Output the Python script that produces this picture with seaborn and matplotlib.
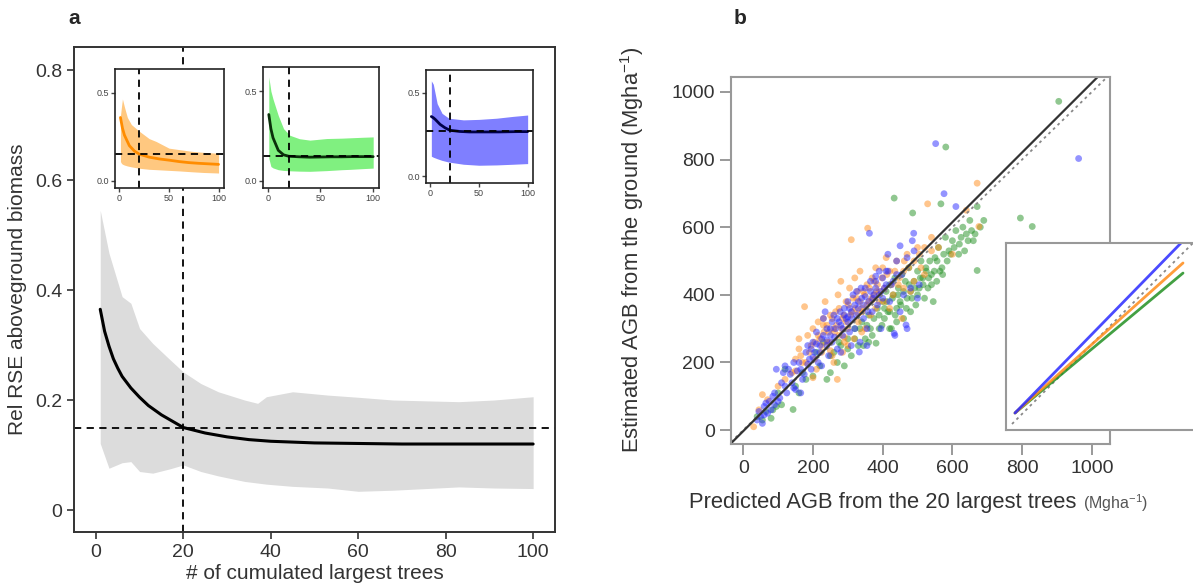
import matplotlib
matplotlib.use("Agg")
import matplotlib.pyplot as plt
import numpy as np
import pandas as pd
import seaborn as sns

# ---------------- panel a: relative RSE vs number of cumulated largest trees
n_mean = [1, 2, 3, 4, 5, 6, 8, 10, 12, 15, 20, 25, 30, 35, 40, 50, 60, 70, 80, 90, 100]
rse_mean = [0.365, 0.325, 0.298, 0.275, 0.258, 0.243, 0.222, 0.205, 0.19, 0.173, 0.15,
            0.14, 0.133, 0.128, 0.125, 0.122, 0.121, 0.12, 0.12, 0.12, 0.12]
n_band = [1, 3, 6, 8, 10, 13, 17, 20, 24, 28, 34, 37, 39, 45, 53, 60, 68, 83, 91, 100]
rse_upper = [0.545, 0.467, 0.388, 0.376, 0.33, 0.303, 0.273, 0.251, 0.23, 0.215, 0.2,
             0.194, 0.206, 0.215, 0.209, 0.205, 0.2, 0.197, 0.2, 0.206]
rse_lower = [0.121, 0.076, 0.086, 0.088, 0.07, 0.067, 0.075, 0.082, 0.07, 0.062, 0.052,
             0.049, 0.047, 0.043, 0.04, 0.034, 0.036, 0.042, 0.04, 0.039]
n_cut = 20
rse_cut = 0.15

# insets, one per site (orange, green, blue)
n_site = [1, 3, 5, 10, 15, 20, 30, 40, 50, 60, 70, 80, 90, 100]
orange_mean = [0.36, 0.3, 0.26, 0.2, 0.17, 0.152, 0.135, 0.125, 0.118, 0.11, 0.104, 0.1, 0.097, 0.094]
green_mean = [0.37, 0.29, 0.24, 0.17, 0.145, 0.137, 0.134, 0.132, 0.133, 0.134, 0.134, 0.135, 0.135, 0.135]
blue_mean = [0.357, 0.35, 0.34, 0.31, 0.29, 0.275, 0.268, 0.265, 0.265, 0.265, 0.265, 0.266, 0.267, 0.267]

orange_n = [1, 2, 3, 5, 8, 12, 20, 30, 37, 50, 60, 73, 85, 100]
orange_upper = [0.37, 0.42, 0.465, 0.42, 0.36, 0.32, 0.282, 0.24, 0.224, 0.186, 0.178, 0.168, 0.162, 0.157]
orange_lower = [0.11, 0.1, 0.095, 0.09, 0.085, 0.08, 0.072, 0.066, 0.064, 0.06, 0.057, 0.052, 0.048, 0.045]
green_n = [1, 3, 5, 10, 15, 21, 30, 40, 56, 70, 78, 90, 100]
green_upper = [0.58, 0.5, 0.456, 0.364, 0.291, 0.254, 0.235, 0.227, 0.236, 0.238, 0.24, 0.243, 0.245]
green_lower = [0.126, 0.08, 0.072, 0.062, 0.058, 0.056, 0.054, 0.053, 0.057, 0.062, 0.064, 0.068, 0.071]
blue_n = [1, 3, 7, 12, 19, 34, 50, 68, 85, 100]
blue_upper = [0.57, 0.55, 0.434, 0.376, 0.347, 0.337, 0.34, 0.347, 0.358, 0.366]
blue_lower = [0.12, 0.114, 0.105, 0.095, 0.085, 0.072, 0.066, 0.068, 0.072, 0.076]
site_cut = [0.151, 0.136, 0.273]

# ---------------- panel b: predicted vs estimated AGB (Mg/ha)
blue_pred = [40, 45, 50, 55, 60, 70, 75, 85, 90, 95, 100, 110, 120, 130, 140, 150, 160, 165, 175, 180,
             185, 190, 195, 200, 205, 210, 215, 220, 225, 230, 235, 240, 245, 250, 255, 260, 265, 270,
             275, 280, 285, 290, 295, 300, 305, 310, 315, 320, 325, 330, 335, 340, 345, 350, 355, 360,
             365, 370, 375, 380, 385, 390, 395, 400, 410, 415, 420, 430, 435, 440, 450, 460, 470, 480,
             485, 490, 500, 552, 576, 610, 962, 362, 489, 467, 433, 333, 240, 300, 380, 410,
             60, 65, 80, 90, 105, 115, 125, 135, 145, 155, 170, 185, 195, 200, 210, 220, 230, 240,
             250, 255, 262, 270, 278, 285, 290, 300, 305, 312, 320, 325, 330, 338, 345, 350, 358, 365,
             372, 380, 390, 400, 405, 415, 425, 440, 455, 470, 395, 355, 310, 280, 225, 165, 145, 120,
             450, 505]
blue_obs = [30, 55, 40, 20, 70, 50, 85, 100, 110, 180, 85, 140, 130, 180, 140, 120, 200, 110, 165, 230,
            250, 210, 180, 260, 230, 290, 200, 250, 270, 330, 350, 300, 220, 280, 260, 340, 300, 240,
            320, 310, 280, 360, 330, 380, 290, 350, 400, 300, 410, 360, 260, 390, 330, 420, 300, 380,
            440, 350, 400, 420, 370, 470, 410, 390, 430, 520, 380, 440, 280, 460, 350, 400, 300, 420,
            560, 530, 390, 847, 699, 661, 803, 582, 582, 311, 286, 231, 265, 335, 455, 470,
            45, 80, 60, 75, 95, 170, 110, 165, 200, 175, 150, 195, 240, 215, 255, 230, 280, 250,
            300, 320, 275, 330, 350, 300, 340, 320, 360, 330, 370, 340, 380, 420, 370, 395, 350, 410,
            390, 440, 400, 450, 420, 470, 430, 500, 460, 510, 300, 250, 250, 230, 190, 180, 125, 190,
            545, 430]
orange_pred = [30, 45, 55, 70, 100, 120, 140, 150, 160, 170, 176, 185, 190, 200, 205, 210, 215, 220, 225,
               230, 235, 240, 245, 250, 255, 260, 265, 270, 272, 275, 280, 285, 290, 295, 300, 305, 310,
               312, 318, 320, 325, 330, 335, 340, 345, 350, 355, 357, 360, 365, 370, 375, 380, 385, 390,
               400, 405, 410, 420, 430, 440, 445, 455, 460, 470, 480, 490, 500, 510, 520, 529, 540, 560,
               600, 676, 671, 640, 250, 290, 330, 370,
               150, 165, 180, 195, 205, 215, 225, 232, 240, 248, 255, 262, 268, 275, 282, 288, 295, 302,
               308, 315, 322, 328, 335, 342, 348, 355, 362, 368, 375, 382, 390, 398, 405, 412, 425, 435,
               448, 462, 475, 490, 505, 520, 540, 285, 260, 340, 300, 420, 230, 200, 380, 460, 160]
orange_obs = [10, 60, 105, 90, 130, 150, 170, 210, 240, 200, 365, 280, 230, 300, 260, 180, 320, 270, 230,
              310, 380, 260, 290, 340, 220, 300, 350, 150, 400, 280, 440, 330, 260, 380, 300, 420, 563,
              350, 270, 450, 390, 320, 470, 360, 410, 300, 430, 597, 380, 340, 450, 400, 360, 430, 410,
              480, 380, 510, 470, 400, 500, 430, 330, 470, 520, 410, 440, 540, 480, 460, 669, 570, 540,
              520, 602, 730, 650, 235, 275, 345, 385,
              175, 220, 200, 250, 210, 280, 250, 290, 310, 260, 330, 290, 310, 360, 300, 340, 320, 370,
              340, 390, 360, 410, 380, 350, 400, 370, 420, 390, 440, 410, 380, 450, 420, 460, 430, 470,
              450, 500, 480, 500, 520, 540, 530, 230, 200, 290, 250, 360, 330, 155, 480, 420, 270]
green_pred = [40, 55, 80, 95, 110, 120, 143, 160, 180, 200, 220, 240, 250, 260, 270, 280, 290, 300, 310,
              320, 330, 340, 350, 360, 370, 381, 385, 390, 400, 405, 410, 415, 420, 425, 430, 433, 435,
              440, 445, 450, 455, 460, 465, 470, 475, 480, 486, 490, 495, 500, 505, 510, 515, 520, 525,
              530, 535, 540, 545, 550, 555, 560, 567, 570, 575, 580, 581, 590, 600, 610, 620, 630, 640,
              650, 660, 671, 671, 680, 795, 829, 905,
              250, 275, 300, 320, 335, 345, 355, 365, 375, 390, 398, 405, 412, 420, 428, 436, 444, 452,
              460, 468, 476, 484, 492, 500, 508, 516, 524, 532, 540, 548, 556, 564, 572, 585, 595, 605,
              618, 625, 635, 645, 655, 665, 690, 210, 230, 150, 170, 100, 85, 65, 360, 420, 440, 480]
green_obs = [40, 30, 35, 70, 75, 180, 61, 110, 150, 160, 190, 150, 170, 230, 200, 250, 190, 270, 220,
             300, 250, 320, 270, 340, 280, 257, 360, 300, 380, 330, 410, 350, 430, 300, 400, 686, 450,
             360, 420, 380, 460, 330, 440, 390, 480, 410, 642, 440, 370, 470, 420, 500, 450, 390, 470,
             420, 500, 460, 380, 510, 440, 540, 669, 480, 520, 570, 837, 530, 560, 590, 550, 600, 580,
             620, 560, 661, 472, 600, 627, 602, 972,
             220, 260, 240, 270, 300, 250, 310, 300, 330, 340, 310, 360, 380, 350, 390, 340, 400, 370,
             410, 360, 430, 390, 420, 400, 450, 430, 480, 450, 430, 470, 500, 470, 460, 500, 520, 540,
             520, 570, 530, 560, 590, 580, 620, 230, 260, 130, 170, 110, 60, 55, 260, 300, 320, 350]

# fitted lines per site (inset of panel b) and overall fit
fit_sites = ["green", "orange", "blue"]
fit_slope = [0.833, 0.893, 1.024]
fit_intercept = [47.5, 44.8, 38.9]
fit_range = [45, 885]
overall_slope, overall_intercept = 1.03, -3

site_colors = {"orange": "#ff8c1a", "green": "#229022", "blue": "#2a2aff"}
band_colors = {"orange": "#ffc880", "green": "#80f080", "blue": "#7f7fff"}
line_colors = {"orange": "#ff8c00", "green": "#0a300a", "blue": "#00004a"}

sns.set_style("ticks")
plt.rcParams["font.family"] = ["Liberation Sans", "DejaVu Sans"]
plt.rcParams["mathtext.fontset"] = "custom"
plt.rcParams["mathtext.rm"] = "Liberation Sans"

W, H = 1193, 586
fig = plt.figure(figsize=(W / 100, H / 100), dpi=100)


def px_box(left, top, right, bottom):
    return [left / W, 1 - bottom / H, (right - left) / W, (bottom - top) / H]


# ---------------- panel a
ax = fig.add_axes(px_box(74, 47, 555, 532))
ax.fill_between(n_band, rse_lower, rse_upper, color="#dcdcdc", lw=0)
sns.lineplot(x=n_mean, y=rse_mean, ax=ax, color="black", linewidth=2.2)
ax.axhline(rse_cut, color="black", ls=(0, (4, 3)), lw=1.3)
ax.axvline(n_cut, color="black", ls=(0, (4, 3)), lw=1.3)
ax.set_xlim(-5, 105)
ax.set_ylim(-0.04, 0.842)
ax.set_xticks([0, 20, 40, 60, 80, 100])
ax.set_yticks([0, 0.2, 0.4, 0.6, 0.8])
ax.set_yticklabels(["0", "0.2", "0.4", "0.6", "0.8"])
ax.tick_params(labelsize=14, colors="#333333", length=5, width=1.2)
for s in ax.spines.values():
    s.set_color("#333333")
    s.set_linewidth(1.4)
ax.set_xlabel("# of cumulated largest trees", fontsize=15, color="#333333", labelpad=2)
ax.set_ylabel("Rel RSE aboveground biomass", fontsize=15, color="#333333", labelpad=6)
fig.text(74 / W, 1 - 18 / H, "a", fontsize=15, fontweight="bold", ha="center", va="center")


def draw_inset(box, site, n_b, lo, hi, mean, cut):
    ia = fig.add_axes(box)
    ia.set_facecolor("white")
    ia.fill_between(n_b, lo, hi, color=band_colors[site], lw=0)
    sns.lineplot(x=n_site, y=mean, ax=ia, color=line_colors[site], linewidth=2)
    ia.axhline(cut, color="black", ls=(0, (4, 3)), lw=1.3)
    ia.axvline(n_cut, color="black", ls=(0, (4, 3)), lw=1.3)
    ia.set_xlim(-4.5, 105.5)
    ia.set_ylim(-0.04, 0.635)
    ia.set_xticks([0, 50, 100])
    ia.set_yticks([0, 0.5])
    ia.set_yticklabels(["0.0", "0.5"])
    ia.tick_params(labelsize=6.5, colors="#444444", length=3, width=1, pad=1.5)
    for s in ia.spines.values():
        s.set_color("#222222")
        s.set_linewidth(1.2)
    ia.set_zorder(5)
    return ia


draw_inset(px_box(115, 69, 224, 188), "orange", orange_n, orange_lower, orange_upper, orange_mean, site_cut[0])
draw_inset(px_box(263, 67, 379, 188), "green", green_n, green_lower, green_upper, green_mean, site_cut[1])
draw_inset(px_box(426, 70, 533, 183), "blue", blue_n, blue_lower, blue_upper, blue_mean, site_cut[2])

# ---------------- panel b
bx = fig.add_axes(px_box(731, 77, 1110, 444))
pts = pd.concat([
    pd.DataFrame({"pred": green_pred, "obs": green_obs, "site": "green"}),
    pd.DataFrame({"pred": orange_pred, "obs": orange_obs, "site": "orange"}),
    pd.DataFrame({"pred": blue_pred, "obs": blue_obs, "site": "blue"}),
], ignore_index=True)
sns.scatterplot(data=pts, x="pred", y="obs", hue="site", palette=site_colors, s=24, alpha=0.5,
                edgecolor="none", legend=False, ax=bx)
bx.axline((0, 0), slope=1, color="#888888", ls=(0, (1.5, 2)), lw=1.3)
bx.axline((0, overall_intercept), slope=overall_slope, color="#333333", lw=1.6)
bx.set_xlim(-35, 1052)
bx.set_ylim(-41, 1044)
bx.set_xticks([0, 200, 400, 600, 800, 1000])
bx.set_yticks([0, 200, 400, 600, 800, 1000])
bx.tick_params(labelsize=14, labelcolor="#333333", color="#888888", length=8, width=1.2)
for s in bx.spines.values():
    s.set_color("#999999")
    s.set_linewidth(1.5)
bx.set_xlabel("Predicted AGB from the 20 largest trees", fontsize=15.8, color="#333333")
bx.xaxis.set_label_coords(0.40, -0.13)
bx.annotate("(Mgha$^{-1}$)", xy=(1, 0.45), xycoords=bx.xaxis.label, xytext=(5, 0),
            textcoords="offset points", ha="left", va="center", fontsize=11.5, color="#555555")
bx.set_ylabel("Estimated AGB from the ground (Mgha$^{-1}$)", fontsize=15.8, color="#333333")
bx.yaxis.set_label_coords(-0.225, 0.53)
fig.text(740 / W, 1 - 18 / H, "b", fontsize=15, fontweight="bold", ha="center", va="center")

# inset of panel b: fitted lines per site (right edge runs off the figure)
ib = fig.add_axes(px_box(1006, 243, 1230, 430))
ib.set_facecolor("white")
ib.set_zorder(5)
ib.plot([30, 1100], [30, 1100], color="#888888", ls=(0, (1.5, 2)), lw=1.3)
for site, b1, b0 in zip(fit_sites, fit_slope, fit_intercept):
    sns.lineplot(x=fit_range, y=[b0 + b1 * v for v in fit_range], ax=ib,
                 color=site_colors[site], linewidth=2, alpha=0.85)
ib.set_xlim(0, 1120)
ib.set_ylim(0, 935)
ib.set_xticks([])
ib.set_yticks([])
for s in ib.spines.values():
    s.set_color("#999999")
    s.set_linewidth(1.5)
ib.spines["right"].set_visible(False)

fig.savefig("out.png", dpi=100)
